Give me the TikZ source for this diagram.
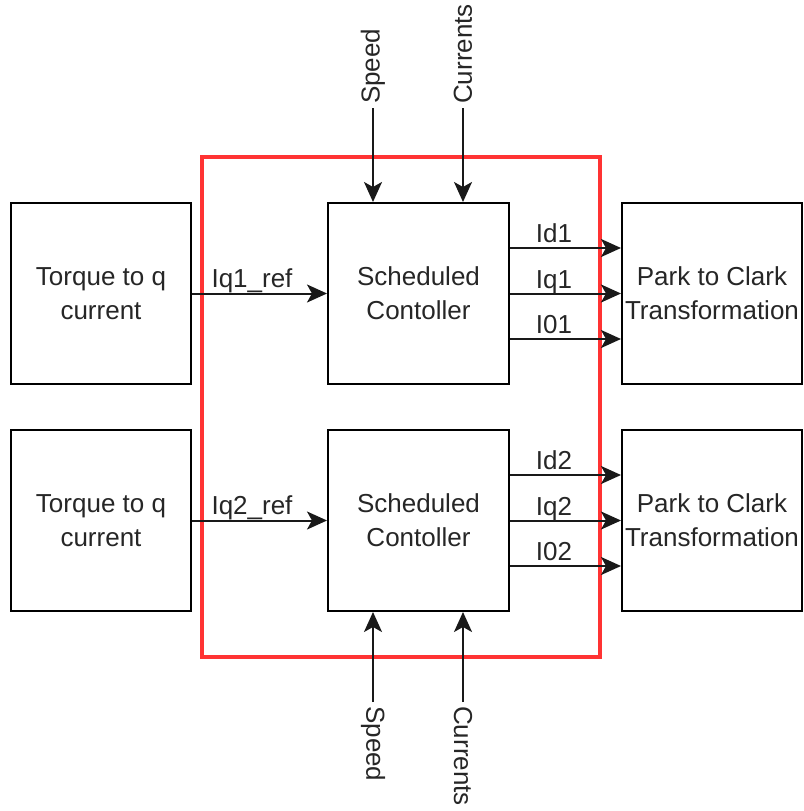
\documentclass[tikz,border=0pt]{standalone}
\usepackage{fontspec}
\setmainfont{Liberation Sans}
\usetikzlibrary{arrows.meta}
\definecolor{framered}{RGB}{255,51,51}

\begin{document}
\begin{tikzpicture}[x=1pt,y=-1pt,
  blk/.style={draw=black, line width=2pt, minimum width=180pt, minimum height=181pt,
    align=center, inner sep=0pt, text=black!85, font=\fontsize{26}{34}\selectfont},
  sig/.style={line width=2pt, draw=black!90,
    -{Stealth[length=20pt,width=18pt,inset=5pt]}},
  lbl/.style={font=\fontsize{26}{30}\selectfont, text=black!85, inner sep=4pt},
  grp/.style={draw=framered, line width=4pt, minimum width=398pt, minimum height=500pt, inner sep=0pt}
]
\useasboundingbox (0,0) rectangle (803,811);

% controller group frame
\node[grp] (frame) at (401,407) {};

% upper row
\node[blk] (T1) at (101,293.5) {Torque to q\\current};
\node[blk, minimum width=181pt] (C1) at (418.5,293.5) {Scheduled\\Contoller};
\node[blk] (P1) at (712,293.5) {Park to Clark\\Transformation};

% lower row
\node[blk] (T2) at (101,520.5) {Torque to q\\current};
\node[blk, minimum width=181pt] (C2) at (418.5,520.5) {Scheduled\\Contoller};
\node[blk] (P2) at (712,520.5) {Park to Clark\\Transformation};

% reference currents
\draw[sig] (T1.east) -- (C1.west);
\node[lbl, anchor=base, inner sep=0pt] (r1) at (252,287) {Iq1\_ref};
\draw[sig] (T2.east) -- (C2.west);
\node[lbl, anchor=base, inner sep=0pt] (r2) at (252,514) {Iq2\_ref};

% controller outputs
\draw[sig] ([yshift=45.5pt]C1.east) -- ([yshift=45.5pt]P1.west);
\draw[sig] (C1.east) -- (P1.west);
\draw[sig] ([yshift=-45.5pt]C1.east) -- ([yshift=-45.5pt]P1.west);
\node[lbl, anchor=base, inner sep=0pt] (o11) at (554,242) {Id1};
\node[lbl, anchor=base, inner sep=0pt] (o12) at (554,288) {Iq1};
\node[lbl, anchor=base, inner sep=0pt] (o13) at (554,333) {I01};

\draw[sig] ([yshift=45.5pt]C2.east) -- ([yshift=45.5pt]P2.west);
\draw[sig] (C2.east) -- (P2.west);
\draw[sig] ([yshift=-45.5pt]C2.east) -- ([yshift=-45.5pt]P2.west);
\node[lbl, anchor=base, inner sep=0pt] (o21) at (554,469) {Id2};
\node[lbl, anchor=base, inner sep=0pt] (o22) at (554,515) {Iq2};
\node[lbl, anchor=base, inner sep=0pt] (o23) at (554,560) {I02};

% scheduling inputs, top
\node[lbl, rotate=90, anchor=west] (spdT) at (373,108) {Speed};
\node[lbl, rotate=90, anchor=west] (curT) at (463,108) {Currents};
\draw[sig] (spdT.west) -- (spdT.west |- C1.north);
\draw[sig] (curT.west) -- (curT.west |- C1.north);

% scheduling inputs, bottom
\node[lbl, rotate=-90, anchor=west] (spdB) at (373,702) {Speed};
\node[lbl, rotate=-90, anchor=west] (curB) at (463,702) {Currents};
\draw[sig] (spdB.west) -- (spdB.west |- C2.south);
\draw[sig] (curB.west) -- (curB.west |- C2.south);
\end{tikzpicture}
\end{document}
